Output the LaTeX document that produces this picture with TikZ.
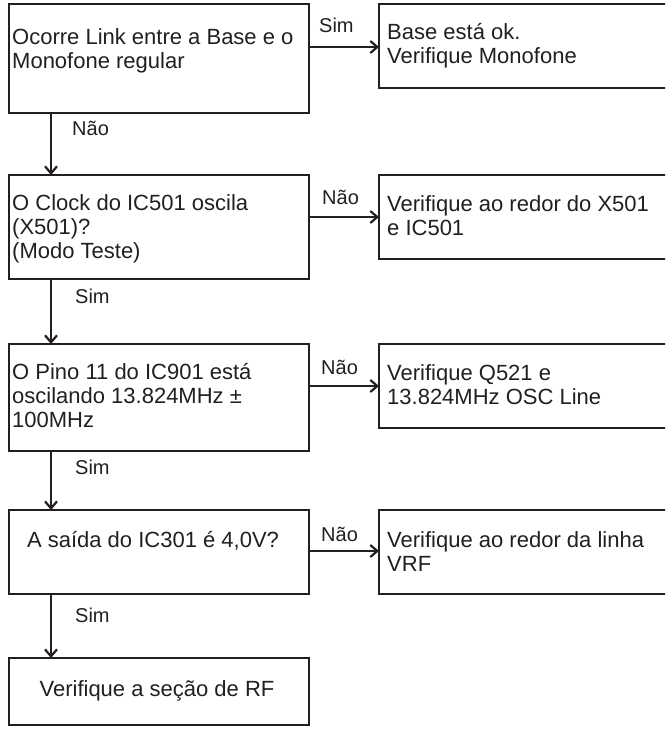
\documentclass[tikz,border=0pt]{standalone}
\usepackage{fontspec}
\setmainfont{Liberation Sans}
\usetikzlibrary{arrows.meta}
\definecolor{ink}{HTML}{231F20}
\begin{document}
\begin{tikzpicture}[x=1pt,y=-1pt,
  box/.style={draw=ink, line width=2.6pt, rectangle, inner sep=0pt, outer sep=0pt, anchor=north west},
  % multi-line texts are anchored at the baseline of their last line
  txt/.style={text=ink, inner sep=0pt, anchor=base west, align=left, font=\fontsize{22}{24}\selectfont},
  ctxt/.style={text=ink, inner sep=0pt, anchor=base, font=\fontsize{22}{24}\selectfont},
  lbl/.style={text=ink, inner sep=0pt, anchor=base west, font=\fontsize{20}{22}\selectfont},
  arr/.style={draw=ink, line width=2.2pt, -{Straight Barb[length=7pt,width=12pt,line width=2.2pt]}}]
\useasboundingbox (0,0) rectangle (665,742);
\clip (0,0) rectangle (665,742);

% decision column
\node[box, minimum width=300pt, minimum height=109pt] (b1) at (9,4) {};
\node[box, minimum width=300pt, minimum height=104pt] (b2) at (9,175) {};
\node[box, minimum width=300pt, minimum height=107pt] (b3) at (9,344) {};
\node[box, minimum width=300pt, minimum height=84pt]  (b4) at (9,510) {};
\node[box, minimum width=300pt, minimum height=67pt]  (b5) at (9,658) {};

% action column (runs off the right edge)
\node[box, minimum width=311pt, minimum height=84pt] (r1) at (379,4) {};
\node[box, minimum width=311pt, minimum height=84pt] (r2) at (379,175) {};
\node[box, minimum width=311pt, minimum height=84pt] (r3) at (379,344) {};
\node[box, minimum width=311pt, minimum height=84pt] (r4) at (379,510) {};

% box texts
\node[txt] (t1) at (12,68.5) {Ocorre Link entre a Base e o\\Monofone regular};
\node[txt] (t2) at (12,258) {O Clock do IC501 oscila\\(X501)?\\(Modo Teste)};
\node[txt] (t3) at (12,427) {O Pino 11 do IC901 está\\oscilando 13.824MHz ±\\100MHz};
\node[ctxt] (t4) at (153,547) {A saída do IC301 é 4,0V?};
\node[ctxt] (t5) at (157,696) {Verifique a seção de RF};
\node[txt] (s1) at (387,63) {Base está ok.\\Verifique Monofone};
\node[txt] (s2) at (387,235) {Verifique ao redor do X501\\e IC501};
\node[txt] (s3) at (387,404) {Verifique Q521 e\\13.824MHz OSC Line};
\node[txt] (s4) at (387,571) {Verifique ao redor da linha\\VRF};

% connectors
\draw[arr] ([xshift=42pt]b1.south west) -- ([xshift=42pt]b2.north west);
\draw[arr] ([xshift=42pt]b2.south west) -- ([xshift=42pt]b3.north west);
\draw[arr] ([xshift=42pt]b3.south west) -- ([xshift=42pt]b4.north west);
\draw[arr] ([xshift=42pt]b4.south west) -- ([xshift=42pt]b5.north west);
\draw[arr] ([yshift=-43pt]b1.north east) -- ([yshift=-43pt]r1.north west);
\draw[arr] ([yshift=-42pt]b2.north east) -- ([yshift=-42pt]r2.north west);
\draw[arr] ([yshift=-42pt]b3.north east) -- ([yshift=-42pt]r3.north west);
\draw[arr] ([yshift=-41pt]b4.north east) -- ([yshift=-41pt]r4.north west);

% connector labels
\node[lbl] (l1) at (319,32) {Sim};
\node[lbl] (l2) at (72,135) {Não};
\node[lbl] (l3) at (322,204) {Não};
\node[lbl] (l4) at (75,303) {Sim};
\node[lbl] (l5) at (321,374) {Não};
\node[lbl] (l6) at (75,474) {Sim};
\node[lbl] (l7) at (321,541) {Não};
\node[lbl] (l8) at (75,622) {Sim};
\end{tikzpicture}
\end{document}
